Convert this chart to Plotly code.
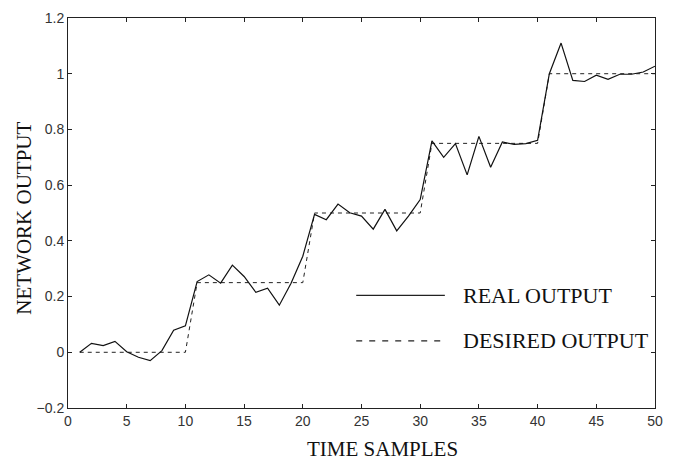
import plotly.graph_objects as go

samples = list(range(1, 51))
real_output = [0.0, 0.032, 0.024, 0.039, 0.002, -0.018, -0.03, 0.006, 0.079, 0.095,
               0.254, 0.278, 0.248, 0.313, 0.272, 0.215, 0.23, 0.169, 0.248, 0.345,
               0.495, 0.476, 0.532, 0.501, 0.489, 0.442, 0.513, 0.436, 0.489, 0.548,
               0.759, 0.70, 0.749, 0.637, 0.775, 0.664, 0.755, 0.746, 0.749, 0.761,
               1.0, 1.11, 0.976, 0.972, 0.995, 0.98, 0.998, 0.998, 1.006, 1.027]
desired_output = [0.0] * 10 + [0.25] * 10 + [0.5] * 10 + [0.75] * 10 + [1.0] * 10

x_ticks = [0, 5, 10, 15, 20, 25, 30, 35, 40, 45, 50]
y_ticks = [-0.2, 0, 0.2, 0.4, 0.6, 0.8, 1, 1.2]
y_ticktext = ["\u22120.2", "0", "0.2", "0.4", "0.6", "0.8", "1", "1.2"]

fig = go.Figure()
fig.add_trace(go.Scatter(x=samples, y=desired_output, mode="lines",
                         line=dict(color="#222222", width=1, dash="4px,4px"),
                         name="DESIRED OUTPUT", showlegend=False))
fig.add_trace(go.Scatter(x=samples, y=real_output, mode="lines",
                         line=dict(color="#111111", width=1.2),
                         name="REAL OUTPUT", showlegend=False))

serif = "Liberation Serif, Times New Roman, serif"
sans = "Liberation Sans, Arial, sans-serif"

# legend keys (drawn in paper coordinates)
fig.add_shape(type="line", xref="paper", yref="paper", x0=0.491, x1=0.642, y0=0.289, y1=0.289,
              line=dict(color="#222222", width=1.2))
fig.add_shape(type="line", xref="paper", yref="paper", x0=0.491, x1=0.642, y0=0.172, y1=0.172,
              line=dict(color="#222222", width=1.2, dash="6px,7px"))
fig.add_annotation(xref="paper", yref="paper", x=0.670, y=0.289, text="REAL OUTPUT",
                   showarrow=False, xanchor="left", yanchor="middle",
                   font=dict(family=serif, size=22, color="#111111"))
fig.add_annotation(xref="paper", yref="paper", x=0.670, y=0.172, text="DESIRED OUTPUT",
                   showarrow=False, xanchor="left", yanchor="middle",
                   font=dict(family=serif, size=22, color="#111111"))

# axis titles
fig.add_annotation(xref="paper", yref="paper", x=0.536, y=-0.104, text="TIME SAMPLES",
                   showarrow=False, xanchor="center", yanchor="middle",
                   font=dict(family=serif, size=21, color="#111111"))
fig.add_annotation(xref="paper", yref="paper", x=-0.0756, y=0.487, text="NETWORK OUTPUT",
                   showarrow=False, xanchor="center", yanchor="middle", textangle=-90,
                   font=dict(family=serif, size=21, color="#111111"))

fig.update_layout(
    width=673, height=462,
    margin=dict(l=68, r=10, t=13, b=54),
    paper_bgcolor="white", plot_bgcolor="white",
    showlegend=False,
    xaxis=dict(range=[0, 50], tickvals=x_ticks, ticks="inside", ticklen=4,
               showline=True, linecolor="#222222", linewidth=1, mirror="ticks",
               tickcolor="#222222", showgrid=False, zeroline=False,
               tickfont=dict(family=sans, size=14, color="#333333")),
    yaxis=dict(range=[-0.2, 1.2], tickvals=y_ticks, ticktext=y_ticktext, ticks="inside", ticklen=4,
               showline=True, linecolor="#222222", linewidth=1, mirror="ticks",
               tickcolor="#222222", showgrid=False, zeroline=False,
               tickfont=dict(family=sans, size=14, color="#333333")),
)

fig.write_html("out.html")
